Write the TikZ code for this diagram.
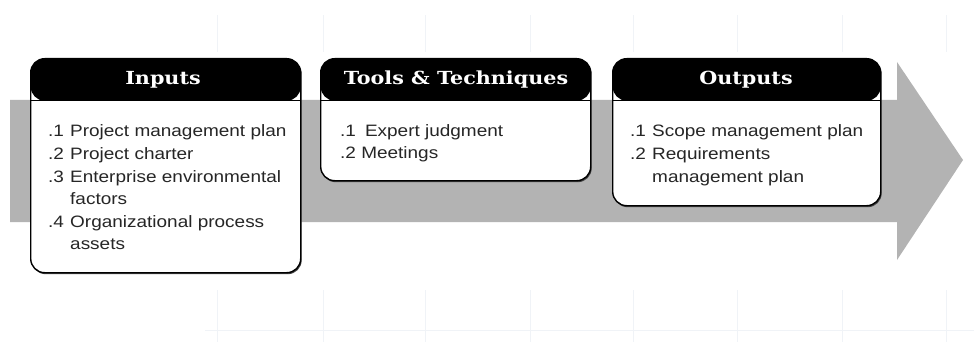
\documentclass[tikz,border=0pt]{standalone}
\usepackage{fontspec}
\setmainfont{Liberation Sans}
\newfontfamily\bodyfont[FakeStretch=1.15]{Liberation Sans}
\newfontfamily\headfont[FakeStretch=1.15]{DejaVu Serif}
\definecolor{arrowgray}{HTML}{B3B3B3}
\definecolor{txtgray}{HTML}{262626}
\definecolor{gridc}{HTML}{F0F3F7}
\begin{document}
\begin{tikzpicture}[x=1pt,y=-1pt,
  panel/.style={draw=black, line width=1.4pt, fill=white, rounded corners=14pt,
    inner sep=0pt, anchor=north west,
    path picture={\fill[black] (path picture bounding box.north west) rectangle ([yshift=-42pt]path picture bounding box.north east);
      \draw[black, line width=1.2pt] ([yshift=-42pt]path picture bounding box.north west) -- ([yshift=-42pt]path picture bounding box.north east);}},
  shadowbox/.style={fill=black!75, rounded corners=14pt, inner sep=0pt, anchor=north west, draw=none},
  head/.style={text=white, font=\headfont\bfseries\fontsize{18}{21}\selectfont, inner sep=0pt},
  body/.style={text=txtgray, font=\bodyfont\fontsize{16.5}{22.5}\selectfont, inner sep=0pt, anchor=base west, align=left},
  gridline/.style={draw=gridc, line width=0.8pt}
]
\useasboundingbox (0,0) rectangle (974,342);
% faint background grid
\foreach \gx in {217,323,425,530,633,737,842,946}{
  \draw[gridline] (\gx,15) -- (\gx,52);
  \draw[gridline] (\gx,290) -- (\gx,342);
}
\draw[gridline] (205,330) -- (974,330);
% big arrow
\fill[arrowgray] (10,100) -- (897,100) -- (897,62) -- (963,160) -- (897,260) -- (897,222) -- (10,222) -- cycle;
% shadows
\node[shadowbox, minimum width=270pt, minimum height=214pt] (inS) at (31.5,60) {};
\node[shadowbox, minimum width=270pt, minimum height=122pt] (ttS) at (321.5,60) {};
\node[shadowbox, minimum width=268pt, minimum height=147pt] (outS) at (613.5,60) {};
% panels
\node[panel, minimum width=270pt, minimum height=214pt] (in) at (30,58) {};
\node[panel, minimum width=270pt, minimum height=122pt] (tt) at (320,58) {};
\node[panel, minimum width=268pt, minimum height=147pt] (out) at (612,58) {};
% headers
\node[head] (inH) at (163,80) {Inputs};
\node[head] (ttH) at (456,80) {Tools \& Techniques};
\node[head] (outH) at (746,80) {Outputs};
% bodies
\node[body] (inB) at (48,137) {\begin{tabular}[t]{@{}p{22pt}@{}l@{}}
.1 & Project management plan\\
.2 & Project charter\\
.3 & Enterprise environmental\\
   & factors\\
.4 & Organizational process\\
   & assets
\end{tabular}};
\node[body] (ttB) at (340,136) {\begin{tabular}[t]{@{}l@{}}
.1\hspace{9pt}Expert judgment\\
.2 Meetings
\end{tabular}};
\node[body] (outB) at (630,137) {\begin{tabular}[t]{@{}p{22pt}@{}l@{}}
.1 & Scope management plan\\
.2 & Requirements\\
   & management plan
\end{tabular}};
\end{tikzpicture}
\end{document}
